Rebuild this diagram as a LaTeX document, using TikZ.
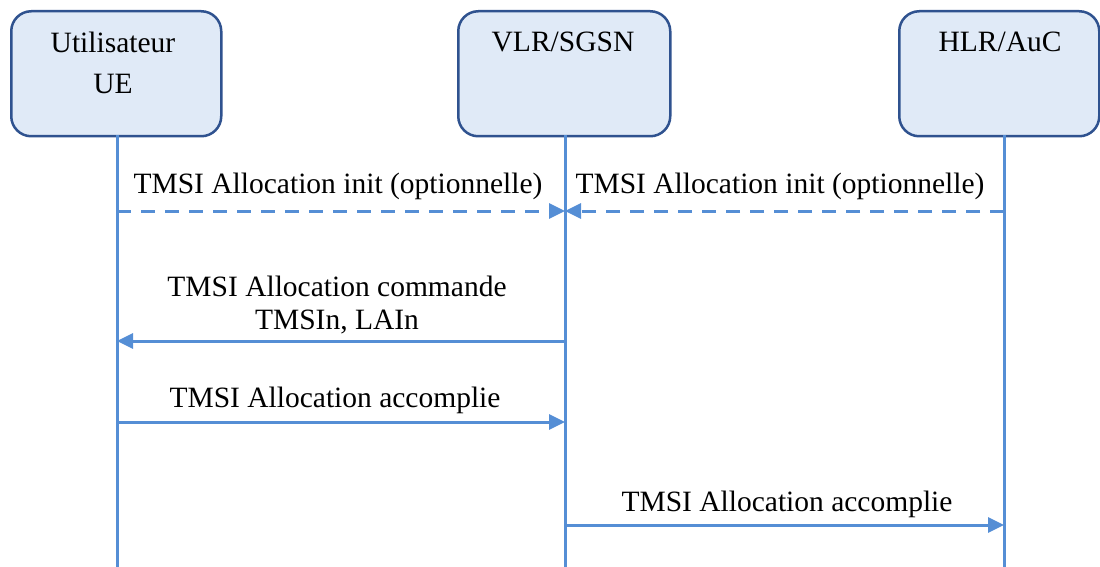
\documentclass[tikz,border=0pt]{standalone}
\usepackage{fontspec}
\setmainfont{Liberation Serif}
\usetikzlibrary{arrows.meta}
\definecolor{boxline}{RGB}{47,82,143}
\definecolor{boxfill}{RGB}{224,234,247}
\definecolor{lifeblue}{RGB}{85,142,213}
\tikzset{
  entity/.style={draw=boxline, line width=2.5pt, fill=boxfill, rounded corners=20pt, anchor=north west, inner sep=0pt},
  life/.style={draw=lifeblue, line width=3pt},
  msg/.style={draw=lifeblue, line width=3pt, -{Triangle[length=16pt,width=15pt]}},
  dmsg/.style={msg, dash pattern=on 14pt off 10pt},
  lbl/.style={anchor=base, inner sep=0pt, font=\fontsize{29.5}{33}\selectfont},
}
\begin{document}
\begin{tikzpicture}[x=1pt,y=-1pt]
\useasboundingbox (0,0) rectangle (1100,567);
% entities
\node[entity, minimum width=210pt, minimum height=125pt] (ue) at (10,10) {};
\node[entity, minimum width=212pt, minimum height=125pt] (vlr) at (457,10) {};
\node[entity, minimum width=200pt, minimum height=125pt] (hlr) at (898,10) {};
\node[lbl] (uet1) at (113,53) {Utilisateur};
\node[lbl] (uet2) at (113,94) {UE};
\node[lbl] (vlrt) at (563,52) {VLR/SGSN};
\node[lbl] (hlrt) at (1000,52) {HLR/AuC};
% lifelines
\coordinate (ueb) at (117,567);
\coordinate (vlrb) at (565,567);
\coordinate (hlrb) at (1004,567);
\draw[life] (117,135) coordinate (uetop) -- (ueb);
\draw[life] (565,135) coordinate (vlrtop) -- (vlrb);
\draw[life] (1004,135) coordinate (hlrtop) -- (hlrb);
% message points
\coordinate (u1) at (117,211);
\coordinate (v1) at (565,211);
\coordinate (h1) at (1004,211);
\coordinate (u3) at (117,341);
\coordinate (v3) at (565,341);
\coordinate (u4) at (117,422);
\coordinate (v4) at (565,422);
\coordinate (v5) at (565,525);
\coordinate (h5) at (1004,525);
% messages
\draw[dmsg] (u1) -- (v1);
\node[lbl] (m1) at (338,193) {TMSI Allocation init (optionnelle)};
\draw[dmsg] (h1) -- (v1);
\node[lbl] (m2) at (780,193) {TMSI Allocation init (optionnelle)};
\draw[msg] (v3) -- (u3);
\node[lbl] (m3a) at (337,296) {TMSI Allocation commande};
\node[lbl] (m3b) at (337,329) {TMSIn, LAIn};
\draw[msg] (u4) -- (v4);
\node[lbl] (m4) at (335,407) {TMSI Allocation accomplie};
\draw[msg] (v5) -- (h5);
\node[lbl] (m5) at (787,511) {TMSI Allocation accomplie};
\end{tikzpicture}
\end{document}
